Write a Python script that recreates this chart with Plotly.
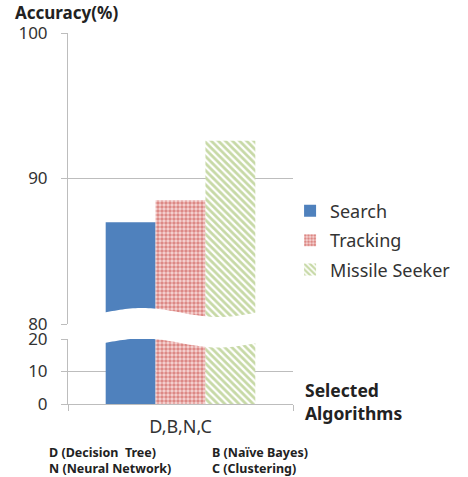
import numpy as np
import plotly.graph_objects as go

# Data
categories = ["D,B,N,C"]
series_names = ["Search", "Tracking", "Missile Seeker"]
search_acc = [87.0]
tracking_acc = [88.5]
missile_acc = [92.6]
upper_ticks = [80, 90, 100]
lower_ticks = [0, 10, 20]

values = [search_acc, tracking_acc, missile_acc]
colors = ["#4F81BD", "#C0504D", "#9BBB59"]
patterns = [
    dict(shape=""),
    dict(shape=".", fgcolor="#C23B36", bgcolor="#F6D6D5", size=4, solidity=0.6),
    dict(shape="\\", fgcolor="#8FB34E", bgcolor="white", size=5, solidity=0.55),
]

FONT = "Noto Sans"
TXT = "#333333"
GRID = "#BDBDBD"

# Figure geometry (pixels)
W, H = 468, 477
ML, MR, MT, MB = 68, 173, 33, 73
plot_w = W - ML - MR
plot_h = H - MT - MB
lower_h = 65      # 0..20 panel
gap_h = 15        # space between the two panels
lower_top = lower_h / plot_h
upper_bottom = (lower_h + gap_h) / plot_h
bargap = 0.335

fig = go.Figure()
for name, vals, col, pat in zip(series_names, values, colors, patterns):
    common = dict(x=categories, y=vals, name=name, marker_color=col,
                  marker_line_width=0, marker_pattern=pat, legendgroup=name)
    fig.add_trace(go.Bar(xaxis="x", yaxis="y", showlegend=True, **common))
    fig.add_trace(go.Bar(xaxis="x2", yaxis="y2", showlegend=False, **common))

axis_common = dict(
    showline=True, linecolor=GRID, linewidth=1,
    ticks="outside", ticklen=6, tickcolor=GRID,
    showgrid=True, gridcolor=GRID, gridwidth=1,
    tickfont=dict(family=FONT, size=17, color=TXT),
    ticklabelstandoff=10, zeroline=False,
)

fig.update_layout(
    width=W, height=H,
    margin=dict(l=ML, r=MR, t=MT, b=MB),
    paper_bgcolor="white", plot_bgcolor="white",
    barmode="group", bargap=bargap, bargroupgap=0,
    font=dict(family=FONT, color=TXT),
    xaxis=dict(domain=[0, 1], anchor="y", showticklabels=False,
               showline=False, ticks="", showgrid=False),
    xaxis2=dict(domain=[0, 1], anchor="y2", matches="x",
                showline=True, linecolor=GRID, ticks="outside",
                tickson="boundaries", ticklen=6, tickcolor=GRID,
                showgrid=False, ticklabelstandoff=6,
                tickfont=dict(family=FONT, size=18, color=TXT)),
    yaxis=dict(domain=[upper_bottom, 1], range=[80, 100],
               tickvals=upper_ticks, anchor="x", **axis_common),
    yaxis2=dict(domain=[0, lower_top], range=[0, 20],
                tickvals=lower_ticks, anchor="x2", **axis_common),
    legend=dict(x=0.987, y=0.57, xanchor="left", yanchor="top",
                font=dict(family=FONT, size=18, color=TXT),
                tracegroupgap=3, traceorder="grouped",
                bgcolor="rgba(0,0,0,0)"),
)

# Wavy axis-break band drawn over the bars
x0 = bargap / 2 - 0.005
x1 = 1 - bargap / 2 + 0.005
xs = np.linspace(x0, x1, 60)
phase = (xs - x0) / (x1 - x0) * 2 * np.pi
top_px = 312.5 - 4.5 * np.sin(phase)
bot_px = 343.0 - 4.5 * np.sin(phase)
to_paper = lambda py: (H - MB - py) / plot_h
pts = [(x, to_paper(y)) for x, y in zip(xs, top_px)] + \
      [(x, to_paper(y)) for x, y in zip(xs[::-1], bot_px[::-1])]
path = "M " + " L ".join(f"{x:.4f},{y:.4f}" for x, y in pts) + " Z"
fig.add_shape(type="path", path=path, xref="paper", yref="paper",
              fillcolor="white", line=dict(width=0), layer="above")

px_x = lambda px: (px - ML) / plot_w
px_y = lambda py: (H - MB - py) / plot_h

annos = [
    dict(text="<b>Accuracy(%)</b>", x=px_x(13), y=px_y(12), size=17),
    dict(text="<b>Selected<br>Algorithms</b>", x=px_x(305), y=px_y(401), size=17.5),
    dict(text="<b>D (Decision  Tree)<br>N (Neural Network)</b>",
         x=px_x(47), y=px_y(460), size=12.5),
    dict(text="<b>B (Naïve Bayes)<br>C (Clustering)</b>",
         x=px_x(211), y=px_y(460), size=12.5),
]
for a in annos:
    fig.add_annotation(text=a["text"], x=a["x"], y=a["y"], xref="paper",
                       yref="paper", xanchor="left", yanchor="middle",
                       showarrow=False, align="left",
                       font=dict(family=FONT, size=a["size"], color="#222222"))

fig.write_html("out.html")
